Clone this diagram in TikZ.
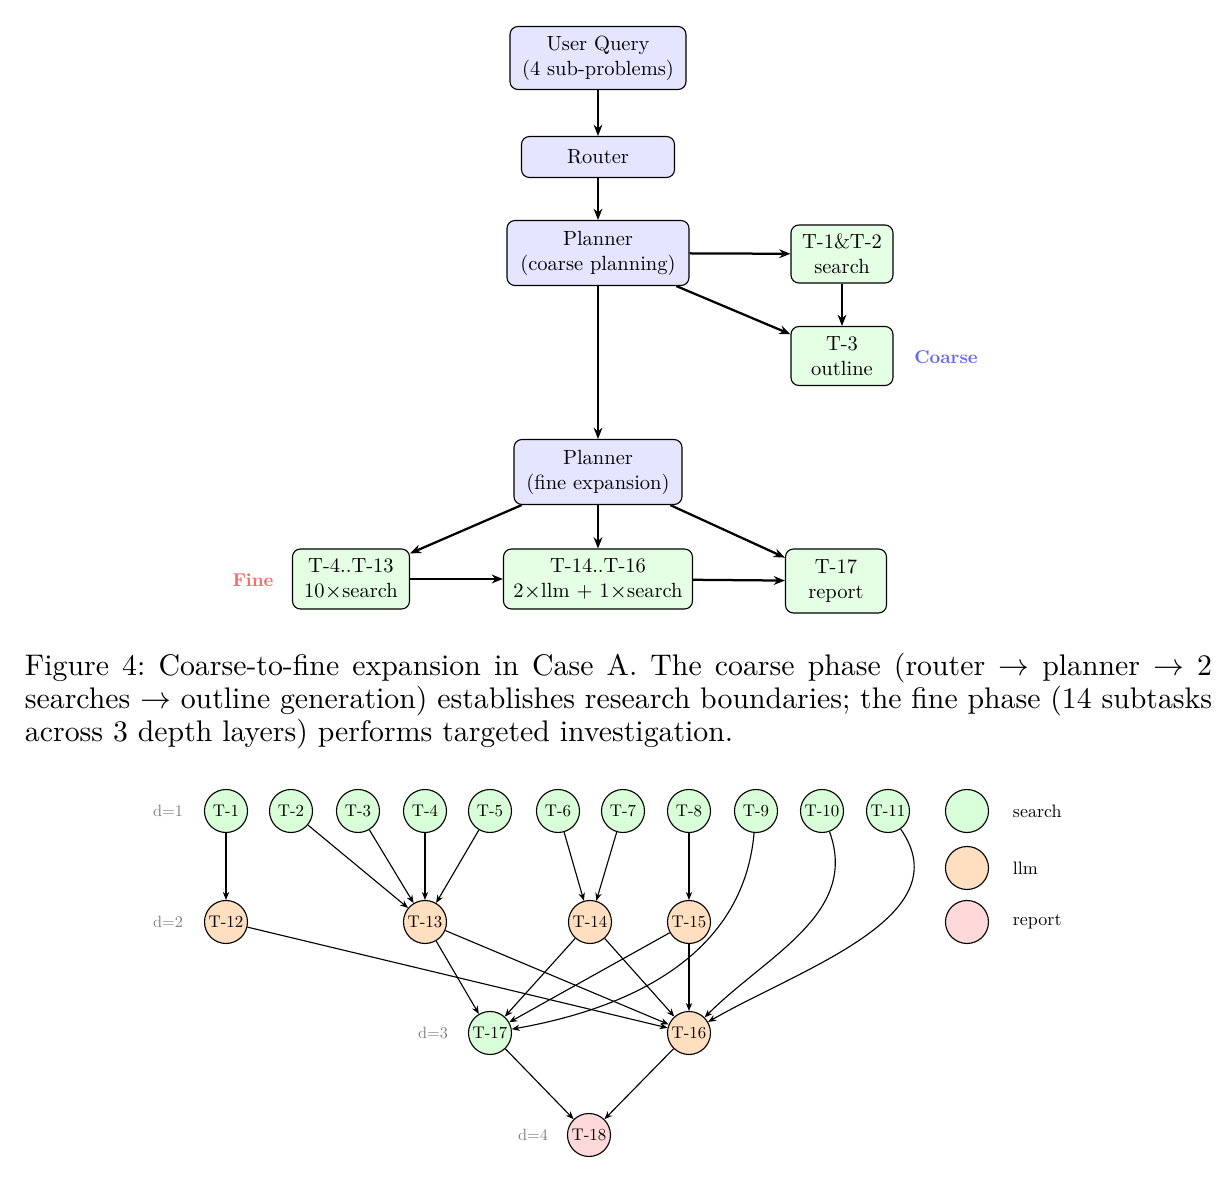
\documentclass[tikz,border=0pt]{standalone}
\usepackage{fontspec}
\setmainfont{lmroman10-regular.otf}[BoldFont=lmroman10-bold.otf]
\usetikzlibrary{arrows.meta, shapes.geometric}

\tikzset{
  stage/.style={draw, rounded corners=1mm, fill=blue!10, align=center, inner sep=1pt, font=\fontsize{7.3}{8.9}\selectfont},
  task/.style={stage, fill=green!10},
  flow/.style={thick, -{Stealth[length=1.4mm, width=1.1mm]}},
  sub/.style={draw, circle, minimum size=5.375mm, inner sep=0pt, font=\fontsize{6}{7}\selectfont},
  search/.style={sub, fill=green!15},
  llm/.style={sub, fill=orange!25},
  report/.style={sub, fill=red!15},
  dep/.style={-{Stealth[length=1mm, width=0.8mm]}},
  layer/.style={text=gray, font=\fontsize{5.8}{7}\selectfont}
}

\begin{document}
\begin{tikzpicture}[x=0.125mm, y=-0.125mm]
    \useasboundingbox (0,0) rectangle (1218,1178);
    % coarse phase
    \node[stage, minimum width=22mm, minimum height=7.875mm] (query) at (598,58) {User Query\\(4 sub-problems)};
    \node[stage, minimum width=19.125mm, minimum height=5.125mm] (router) at (598,157) {Router};
    \node[stage, minimum width=22.75mm, minimum height=8.125mm] (coarse) at (598,253) {Planner\\(coarse planning)};
    \node[task, minimum width=12.75mm, minimum height=7.25mm] (tsearch) at (842,254) {T-1\&T-2\\search};
    \node[task, minimum width=12.75mm, minimum height=7.375mm] (toutline) at (842,356) {T-3\\outline};
    \node[text=blue!60, font=\fontsize{6.6}{8}\selectfont\bfseries] (coarselbl) at (946,357) {Coarse};
    \draw[flow] (query) -- (router);
    \draw[flow] (router) -- (coarse);
    \draw[flow] (coarse) -- (tsearch);
    \draw[flow] (coarse) -- (toutline);
    \draw[flow] (tsearch) -- (toutline);
    % fine phase
    \node[stage, minimum width=21mm, minimum height=8.125mm] (fine) at (598,472) {Planner\\(fine expansion)};
    \node[task, minimum width=14.625mm, minimum height=7.5mm] (tsearchall) at (351,579) {T-4..T-13\\10$\times$search};
    \node[task, minimum width=23.625mm, minimum height=7.5mm] (tmix) at (598,579) {T-14..T-16\\2$\times$llm + 1$\times$search};
    \node[task, minimum width=12.625mm, minimum height=8mm] (treport) at (836,581) {T-17\\report};
    \node[text=red!60, font=\fontsize{6.6}{8}\selectfont\bfseries] (finelbl) at (253,580) {Fine};
    \draw[flow] (coarse) -- (fine);
    \draw[flow] (fine) -- (tsearchall);
    \draw[flow] (fine) -- (tmix);
    \draw[flow] (fine) -- (treport);
    \draw[flow] (tsearchall) -- (tmix);
    \draw[flow] (tmix) -- (treport);
    %
    \node[anchor=base west, font=\fontsize{10.6}{12.7}\selectfont\frenchspacing] (capa) at (15,676) {\makebox[148.4mm][s]{Figure 4: Coarse-to-fine expansion in Case A. The coarse phase (router $\rightarrow$ planner $\rightarrow$ 2}};
    \node[anchor=base west, font=\fontsize{10.6}{12.7}\selectfont\frenchspacing] (capb) at (15,709) {\makebox[148.4mm][s]{searches $\rightarrow$ outline generation) establishes research boundaries; the fine phase (14 subtasks}};
    \node[anchor=base west, font=\fontsize{10.6}{12.7}\selectfont\frenchspacing] (capc) at (15,742) {across 3 depth layers) performs targeted investigation.};
    % subtask graph
    \node[layer] (d1) at (168,811) {d=1};
    \node[layer] (d2) at (168,922) {d=2};
    \node[layer] (d3) at (433,1033) {d=3};
    \node[layer] (d4) at (533,1135) {d=4};
    \node[search] (n1) at (226,811) {T-1};
    \node[search] (n2) at (291,811) {T-2};
    \node[search] (n3) at (358,811) {T-3};
    \node[search] (n4) at (425,811) {T-4};
    \node[search] (n5) at (490,811) {T-5};
    \node[search] (n6) at (558,811) {T-6};
    \node[search] (n7) at (623,811) {T-7};
    \node[search] (n8) at (689,811) {T-8};
    \node[search] (n9) at (756,811) {T-9};
    \node[search] (n10) at (822,811) {T-10};
    \node[search] (n11) at (888,811) {T-11};
    \node[llm] (n12) at (226,922) {T-12};
    \node[llm] (n13) at (425,922) {T-13};
    \node[llm] (n14) at (590,922) {T-14};
    \node[llm] (n15) at (689,922) {T-15};
    \node[search] (n17) at (490,1033) {T-17};
    \node[llm] (n16) at (689,1033) {T-16};
    \node[report] (n18) at (589,1135) {T-18};
    \draw[dep] (n1) -- (n12);
    \draw[dep] (n2) -- (n13);
    \draw[dep] (n3) -- (n13);
    \draw[dep] (n4) -- (n13);
    \draw[dep] (n5) -- (n13);
    \draw[dep] (n6) -- (n14);
    \draw[dep] (n7) -- (n14);
    \draw[dep] (n8) -- (n15);
    \draw[dep] (n9) to[out=-95, in=10] (n17);
    \draw[dep] (n10) to[out=-70, in=45] (n16);
    \draw[dep] (n11) to[out=-55, in=30] (n16);
    \draw[dep] (n12) -- (n16);
    \draw[dep] (n13) -- (n17);
    \draw[dep] (n13) -- (n16);
    \draw[dep] (n14) -- (n17);
    \draw[dep] (n14) -- (n16);
    \draw[dep] (n15) -- (n17);
    \draw[dep] (n15) -- (n16);
    \draw[dep] (n17) -- (n18);
    \draw[dep] (n16) -- (n18);
    % legend
    \node[search] (legsearch) at (967,811) {};
    \node[llm] (legllm) at (967,868) {};
    \node[report] (legreport) at (967,922) {};
    \node[anchor=west, font=\fontsize{6.4}{8}\selectfont] (lblsearch) at (1003,811) {search};
    \node[anchor=west, font=\fontsize{6.4}{8}\selectfont] (lblllm) at (1003,868) {llm};
    \node[anchor=west, font=\fontsize{6.4}{8}\selectfont] (lblreport) at (1003,922) {report};
\end{tikzpicture}
\end{document}
